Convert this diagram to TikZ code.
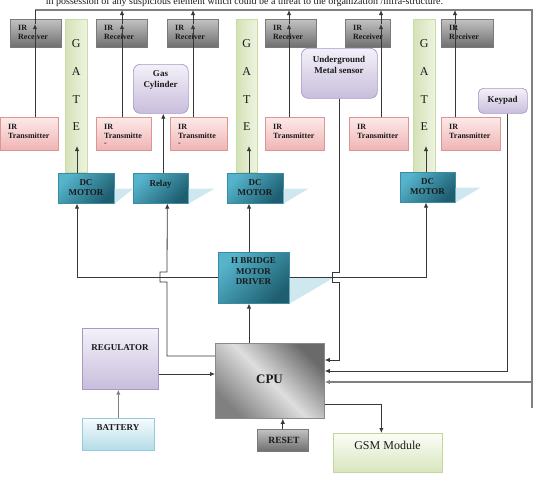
\documentclass[tikz,border=0pt]{standalone}
\usepackage{fontspec}
\setmainfont{Liberation Serif}
\usetikzlibrary{arrows.meta}

\definecolor{wire}{HTML}{383838}
\definecolor{frameline}{HTML}{808080}
\definecolor{rxTop}{HTML}{C2C2C2}
\definecolor{rxBot}{HTML}{6E6E6E}
\definecolor{rxLine}{HTML}{7A7A7A}
\definecolor{txTop}{HTML}{FDE9E9}
\definecolor{txBot}{HTML}{F0B4B4}
\definecolor{txLine}{HTML}{D99694}
\definecolor{gateL}{HTML}{D5E2B8}
\definecolor{gateR}{HTML}{EEF4E0}
\definecolor{gateLine}{HTML}{CADBA6}
\definecolor{lavTop}{HTML}{F4F1F9}
\definecolor{lavBot}{HTML}{C8BDDC}
\definecolor{lavLine}{HTML}{A898C4}
\definecolor{tealTop}{HTML}{55B4CC}
\definecolor{tealBot}{HTML}{1E5E70}
\definecolor{tealLine}{HTML}{3A8CA2}
\definecolor{tealShade}{HTML}{CFE8F0}
\definecolor{batTop}{HTML}{F6FBFD}
\definecolor{batBot}{HTML}{B4DCE7}
\definecolor{batLine}{HTML}{93CDDD}
\definecolor{cpuDark}{HTML}{6A6A6A}
\definecolor{cpuLight}{HTML}{DEDEDE}
\definecolor{cpuLine}{HTML}{8A8A8A}
\definecolor{gsmTop}{HTML}{FBFDF6}
\definecolor{gsmBot}{HTML}{D8E5BE}
\definecolor{gsmLine}{HTML}{C3D69B}
\definecolor{ink}{HTML}{1A1A1A}

% block from top-left corner (x1,y1) to bottom-right corner (x2,y2)
\newcommand\blk[6]{\node[#1, anchor=north west, inner sep=0pt,
  minimum width={#5-#3}, minimum height={#6-#4}] (#2) at (#3,#4) {};}

\begin{document}
\begin{tikzpicture}[x=1pt, y=-1pt,
  wirestyle/.style={draw=wire, line width=0.8pt},
  framestyle/.style={draw=frameline, line width=1.1pt},
  tip/.style={-{Latex[length=5pt,width=4.4pt]}},
  rx/.style={draw=rxLine, line width=0.6pt, top color=rxTop, bottom color=rxBot},
  tx/.style={draw=txLine, line width=0.6pt, top color=txTop, bottom color=txBot},
  gate/.style={draw=gateLine, line width=0.6pt, left color=gateL, right color=gateR},
  lav/.style={draw=lavLine, line width=0.7pt, rounded corners=7pt, top color=lavTop, bottom color=lavBot},
  teal/.style={draw=tealLine, line width=0.6pt, top color=tealTop, bottom color=tealBot, shading angle=45},
  reg/.style={draw=lavLine, line width=0.7pt, top color=lavTop, bottom color=lavBot},
  bat/.style={draw=batLine, line width=0.7pt, top color=batTop, bottom color=batBot},
  cpu/.style={draw=cpuLine, line width=0.8pt, top color=cpuDark, bottom color=cpuDark!85!white, middle color=cpuLight, shading angle=-45},
  rst/.style={draw=rxLine, line width=0.6pt, top color=rxTop, bottom color=rxBot},
  gsm/.style={draw=gsmLine, line width=0.7pt, top color=gsmTop, bottom color=gsmBot},
  irlbl/.style={font=\fontsize{8}{9}\selectfont\bfseries, align=left, anchor=north west, inner sep=0pt, text=ink},
  lbl/.style={font=\fontsize{9}{10.5}\selectfont\bfseries, align=center, inner sep=0pt, text=ink},
  gatelbl/.style={font=\fontsize{12}{14}\selectfont, inner sep=0pt, text=ink},
  shadowfill/.style={fill=tealShade}
]
\useasboundingbox (0,0) rectangle (535,477);
\clip (0,0) rectangle (535,477);

% caption line running off the top edge
\node[font=\fontsize{10}{12}\selectfont, anchor=base, inner sep=0pt, text=ink] (caption) at (244.5,4)
  {in possession of any suspicious element which could be a threat to the organization /infra-structure.};

% gates
\blk{gate}{g1}{65}{19}{87}{172}
\blk{gate}{g2}{236}{19}{257}{172}
\blk{gate}{g3}{413}{19}{435}{172}
\foreach \g in {g1,g2,g3} {
  \node[gatelbl] (\g-G) at ([yshift=-25pt]\g.north) {G};
  \node[gatelbl] (\g-A) at ([yshift=-53pt]\g.north) {A};
  \node[gatelbl] (\g-T) at ([yshift=-81pt]\g.north) {T};
  \node[gatelbl] (\g-E) at ([yshift=-108pt]\g.north) {E};
}

% IR receivers
\blk{rx}{r1}{10}{19}{61}{47}
\blk{rx}{r2}{96}{19}{147}{47}
\blk{rx}{r3}{167}{19}{218}{47}
\blk{rx}{r4}{265}{19}{316}{47}
\blk{rx}{r5}{345}{19}{390}{47}
\blk{rx}{r6}{441}{19}{493}{47}
\foreach \r in {r1,r2,r3,r4,r5,r6}
  \node[irlbl] (\r-t) at ([xshift=8pt,yshift=-6pt]\r.north west) {IR\\Receiver};

% IR transmitters
\blk{tx}{t1}{0}{117}{58}{150}
\blk{tx}{t2}{96}{117}{151}{150}
\blk{tx}{t3}{170}{117}{227}{150}
\blk{tx}{t4}{265}{117}{324}{150}
\blk{tx}{t5}{349}{117}{408}{150}
\blk{tx}{t6}{441}{117}{500}{150}
\foreach \t in {t1,t4,t5,t6}
  \node[irlbl] (\t-t) at ([xshift=8pt,yshift=-7pt]\t.north west) {IR\\Transmitter};
\foreach \t in {t2,t3}
  \node[irlbl] (\t-t) at ([xshift=8pt,yshift=-7pt]\t.north west) {IR\\Transmitte\\[-2pt]-};

% sensors and inputs
\blk{lav}{gas}{133}{64}{188}{113}
\node[lbl] (gas-t) at (160.5,80) {Gas\\Cylinder};
\blk{lav}{ug}{301}{48}{377}{98}
\node[lbl] (ug-t) at (339,65) {Underground\\Metal sensor};
\blk{lav, rounded corners=5pt}{key}{478}{88}{527}{113}
\node[lbl] (key-t) at (502.5,100.5) {Keypad};

% drive stage
\blk{teal}{dc1}{58}{173}{114}{203}
\blk{teal}{relay}{133}{173}{188}{203}
\blk{teal}{dc2}{227}{173}{283}{203}
\blk{teal}{dc3}{400}{172}{455}{202}
\blk{teal}{hb}{218}{252}{289}{303}
\foreach \b/\w in {dc1/19,relay/26,dc2/25,dc3/25}
  \fill[shadowfill] (\b.south east) -- ([yshift=15pt]\b.south east) -- ([xshift=\w pt,yshift=15pt]\b.south east) -- cycle;
\fill[shadowfill] (hb.south east) -- (hb.east) -- ([xshift=44pt]hb.east) -- cycle;
\node[lbl] (dc1-t) at (86,187.5) {DC\\MOTOR};
\node[lbl] (relay-t) at (160.5,184) {Relay};
\node[lbl] (dc2-t) at (255,187.5) {DC\\MOTOR};
\node[lbl] (dc3-t) at (427.5,186.5) {DC\\MOTOR};
\node[lbl] (hb-t) at (253.5,271.5) {H BRIDGE\\MOTOR\\DRIVER};

% power, controller, output
\blk{reg}{reg}{82}{328}{158}{389}
\node[lbl] (reg-t) at (120,348) {REGULATOR};
\blk{bat}{bat}{82}{418}{154}{450}
\node[lbl] (bat-t) at (118,427.5) {BATTERY};
\blk{cpu}{cpu}{215}{343}{324}{418}
\node[lbl, font=\fontsize{13}{15}\selectfont\bfseries] (cpu-t) at (269.5,379) {CPU};
\blk{rst}{rst}{257}{429}{308}{451}
\node[lbl, font=\fontsize{9.5}{11}\selectfont\bfseries] (rst-t) at (284,440) {RESET};
\blk{gsm}{gsm}{333}{433}{442}{472}
\node[font=\fontsize{12}{14}\selectfont, inner sep=0pt, text=ink] (gsm-t) at (387.5,445.5) {GSM Module};

% ports on the controller
\coordinate (cpuL1) at ([yshift=-13pt]cpu.north west);
\coordinate (cpuL2) at ([yshift=-31pt]cpu.north west);
\coordinate (cpuR1) at ([yshift=-17pt]cpu.north east);
\coordinate (cpuR2) at ([yshift=-28pt]cpu.north east);
\coordinate (cpuR3) at ([yshift=-39pt]cpu.north east);
\coordinate (cpuR4) at ([yshift=-61pt]cpu.north east);
\coordinate (hbS) at ([xshift=31pt]hb.south west);
\coordinate (hbN) at ([xshift=31pt]hb.north west);

% alarm bus along the top and down the right side
\coordinate (topL) at (35,10);
\coordinate (topR) at (532,10);
\coordinate (frEnd) at (532,408);
\draw[framestyle] (topL) -- (topR) -- (frEnd);
\draw[framestyle, tip] (frEnd |- cpuR3) -- (cpuR3);

% IR beams: transmitter -> receiver -> bus
\foreach \t/\r/\dx in {t1/r1/35, t2/r2/26, t3/r3/23, t4/r4/24, t5/r5/32, t6/r6/14} {
  \coordinate (\r-in) at ([xshift=\dx pt, yshift=-5pt]\t.north west |- \r.north);
  \draw[wirestyle, tip] ([xshift=\dx pt]\t.north west) -- (\r-in);
}
\draw[wirestyle] (r1-in) -- (r1-in |- topL);
\foreach \r in {r2,r3,r4,r5,r6}
  \draw[wirestyle, tip] (\r-in) -- (\r-in |- topL);

% controller inputs
\draw[wirestyle, tip] (reg.east |- cpuL2) -- (cpuL2);
\draw[draw=frameline, line width=1pt, tip] (bat.north) -- (bat.north |- reg.south);
\draw[wirestyle, tip] (rst.north) -- (rst.north |- cpu.south);
\draw[wirestyle, tip] (ug.south) -- ++(0,174) -- ++(-7,0) -- ++(0,10) -- ++(7,0) |- (cpuR1);
\draw[wirestyle, tip] ([xshift=4.5pt]key.south) |- (cpuR2);

% controller outputs
\draw[wirestyle, tip] (cpuR4) -| ([xshift=-6.5pt]gsm.north);
\draw[wirestyle, tip] (cpuL1) -| ++(-48,-74) -- ++(-7,0) -- ++(0,-10) -- ++(7,0) -- ([xshift=6.5pt]relay.south);
\draw[wirestyle, tip] ([xshift=2.5pt]relay.north) -- ([xshift=2.5pt]relay.north |- gas.south);
\draw[wirestyle, tip] (cpu.north -| hbS) -- (hbS);

% bridge to the motors, motors to the gates
\draw[wirestyle, tip] (hb.west) -| ([xshift=19pt]dc1.south west);
\draw[wirestyle, tip] (hbN) -- (hbN |- dc2.south);
\draw[wirestyle, tip] (hb.east) -| ([xshift=26pt]dc3.south west);
\draw[wirestyle, tip] ([xshift=19pt]dc1.north west) -- ++(0,-27);
\draw[wirestyle, tip] ([xshift=22pt]dc2.north west) -- ++(0,-27);
\draw[wirestyle, tip] ([xshift=26pt]dc3.north west) -- ++(0,-26);
\end{tikzpicture}
\end{document}
